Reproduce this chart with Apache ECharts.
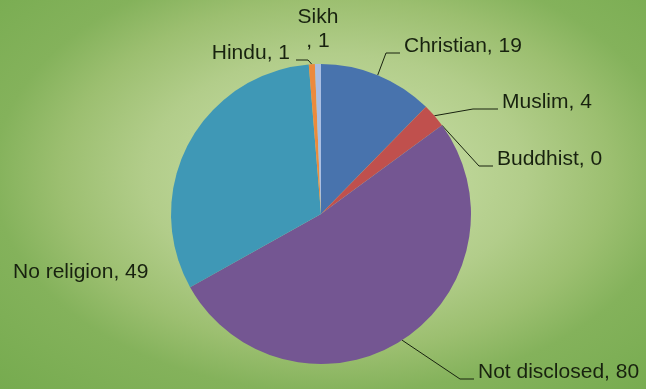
<!DOCTYPE html>
<html>
<head>
<meta charset="utf-8">
<script src="https://cdn.jsdelivr.net/npm/echarts@6/dist/echarts.min.js"></script>
<style>
  html, body { margin: 0; padding: 0; }
  #chart {
    width: 646px; height: 389px;
    background: radial-gradient(ellipse at 52% 45%,
      #CADFA6 0%, #BFD79A 22%, #B2CD8A 40%, #9CBF70 58%, #84B25B 72%, #76AB4F 100%);
  }
</style>
</head>
<body>
<div id="chart"></div>
<script>
// Religion breakdown, drawn clockwise from 12 o'clock
const categories = ['Christian', 'Muslim', 'Buddhist', 'Not disclosed', 'No religion', 'Hindu', 'Sikh'];
const counts = [19, 4, 0, 80, 49, 1, 1];
const sliceColors = ['#4873AD', '#C0504D', '#9BBB59', '#745692', '#3F98B6', '#EC8A3C', '#A9BEE2'];

// Where each label sits: [x, y, align]
const labelSpots = {
  'Christian': [404, 46, 'left'],
  'Muslim': [502, 102, 'left'],
  'Buddhist': [497, 159, 'left'],
  'Not disclosed': [478, 372, 'left'],
  'No religion': [13, 272, 'left'],
  'Hindu': [290, 53, 'right'],
  'Sikh': [318, 29, 'center']
};
// Labels drawn without a leader line
const noLeader = { 'No religion': true, 'Sikh': true };

const chart = echarts.init(document.getElementById('chart'), null, { renderer: 'canvas' });

const pieData = categories.map((name, i) => ({
  name: name,
  value: counts[i],
  itemStyle: { color: sliceColors[i] },
  labelLine: { show: !noLeader[name] }
}));

chart.setOption({
  backgroundColor: 'transparent',
  animation: false,
  series: [{
    type: 'pie',
    center: [321, 214],
    radius: 150,
    startAngle: 90,
    clockwise: true,
    avoidLabelOverlap: false,
    data: pieData,
    label: {
      show: true,
      position: 'outside',
      fontFamily: '"Liberation Sans", Arial, sans-serif',
      fontSize: 21,
      lineHeight: 24,
      color: '#18220f',
      formatter: p => p.name === 'Sikh' ? p.name + '\n, ' + p.value : p.name + ', ' + p.value
    },
    labelLine: {
      show: true,
      lineStyle: { color: '#18220f', width: 1 }
    },
    labelLayout: function (params) {
      const name = categories[params.dataIndex];
      const spot = labelSpots[name];
      const out = { x: spot[0], y: spot[1], align: spot[2], verticalAlign: 'middle' };
      const pts = params.labelLinePoints;
      if (pts && pts.length && !noLeader[name]) {
        const start = pts[0];
        const ly = spot[1] + 7;
        let end, elbow;
        if (spot[2] === 'right') {
          end = [spot[0] + 6, ly];
          elbow = [end[0] + 12, ly];
        } else {
          end = [spot[0] - 4, ly];
          elbow = [end[0] - (name === 'Muslim' ? 25 : 14), ly];
        }
        out.labelLinePoints = [start, elbow, end];
      }
      return out;
    }
  }]
});
</script>
</body>
</html>
